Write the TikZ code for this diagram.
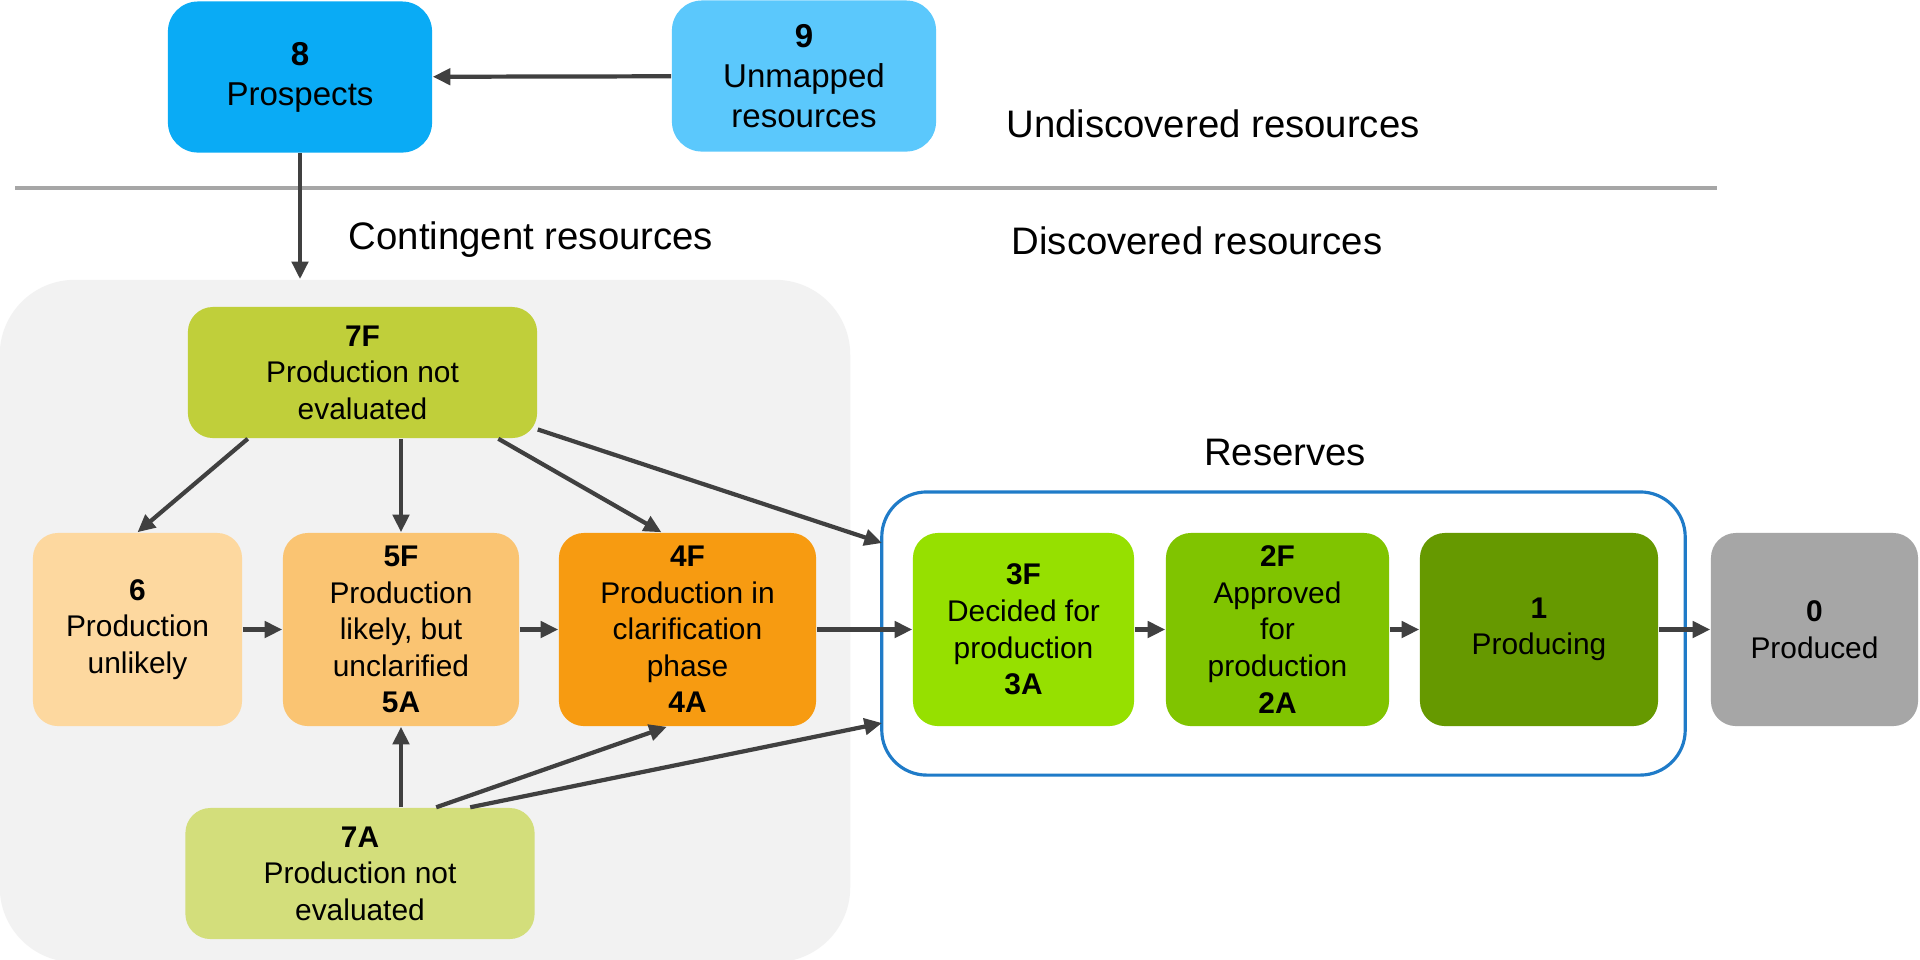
\documentclass[tikz,border=0pt]{standalone}
\usepackage{fontspec}
\setmainfont{Liberation Sans}
\usetikzlibrary{arrows.meta}

\definecolor{prospblue}{HTML}{0AABF5}
\definecolor{unmapblue}{HTML}{5BC8FC}
\definecolor{notevalF}{HTML}{C0CF3A}
\definecolor{notevalA}{HTML}{D3DE7B}
\definecolor{unlikely}{HTML}{FDD89F}
\definecolor{likely}{HTML}{FAC472}
\definecolor{clarif}{HTML}{F79B11}
\definecolor{decided}{HTML}{96E000}
\definecolor{approved}{HTML}{80C400}
\definecolor{producing}{HTML}{669900}
\definecolor{produced}{HTML}{A6A6A6}
\definecolor{panelgray}{HTML}{F2F2F2}
\definecolor{arrowgray}{HTML}{404040}
\definecolor{resblue}{HTML}{1F7BC8}

\begin{document}
\begin{tikzpicture}[x=0.01cm,y=-0.01cm,
    box/.style={rectangle,rounded corners=0.25cm,align=center,inner sep=0pt,
                minimum height=1.93cm,font=\fontsize{8.5}{10.4}\selectfont},
    topbox/.style={box,rounded corners=0.3cm,minimum width=2.64cm,minimum height=1.51cm,
                   font=\fontsize{9.4}{11.4}\selectfont},
    flow/.style={-{Triangle[length=5pt,width=4.6pt]},draw=arrowgray,line width=1.2pt},
    headline/.style={font=\fontsize{10.9}{13}\selectfont}]

  \useasboundingbox[fill=white] (0,0) rectangle (1920,959);

  % background areas
  \node[fill=panelgray,rounded corners=0.75cm,minimum width=8.5cm,minimum height=6.82cm] (cont) at (425,621) {};
  \draw[produced,line width=1.1pt] (15,188) -- (1717,188);
  \node[draw=resblue,line width=0.9pt,rounded corners=0.45cm,minimum width=8.03cm,minimum height=2.83cm] (res) at (1283.5,633.5) {};
  \coordinate (r1) at (882,543);
  \coordinate (r2) at (882,723);

  % headlines
  \node[headline] (undisc) at (1213,124) {Undiscovered resources};
  \node[headline] (disc) at (1197,241) {Discovered resources};
  \node[headline] (conting) at (531,240) {Contingent resources};
  \node[headline] (reserv) at (1285,452) {Reserves};

  % classes
  \node[topbox,fill=prospblue] (n8) at (300,77) {\textbf{8}\\Prospects};
  \node[topbox,fill=unmapblue] (n9) at (804,76) {\textbf{9}\\Unmapped\\resources};
  \node[box,fill=notevalF,minimum width=3.49cm,minimum height=1.31cm] (n7F) at (362.5,372.5) {\textbf{7F}\\Production not\\evaluated};
  \node[box,fill=unlikely,minimum width=2.09cm] (n6) at (137.5,629.5) {\textbf{6}\\Production\\unlikely};
  \node[box,fill=likely,minimum width=2.36cm] (n5) at (401,629.5) {\textbf{5F}\\Production\\likely, but\\unclarified\\\textbf{5A}};
  \node[box,fill=clarif,minimum width=2.57cm] (n4) at (687.5,629.5) {\textbf{4F}\\Production in\\clarification\\phase\\\textbf{4A}};
  \node[box,fill=notevalA,minimum width=3.49cm,minimum height=1.31cm] (n7A) at (360,873.5) {\textbf{7A}\\Production not\\evaluated};
  \node[box,fill=decided,minimum width=2.21cm] (n3) at (1023.5,629.5) {\textbf{3F}\\Decided for\\production\\\textbf{3A}};
  \node[box,fill=approved,minimum width=2.23cm] (n2) at (1277.5,629.5) {\textbf{2F}\\Approved\\for\\production\\\textbf{2A}};
  \node[box,fill=producing,minimum width=2.38cm] (n1) at (1539,629.5) {\textbf{1}\\Producing};
  \node[box,fill=produced,minimum width=2.07cm] (n0) at (1814.5,629.5) {\textbf{0}\\Produced};

  % arrows
  \draw[flow] (n9) -- (n8);
  \draw[flow] (n8.south) -- (n8.south |- cont.north);
  \draw[flow] (n7F.210) -- (n6.north);
  \draw[flow] (n7F.south -| n5.north) -- (n5.north);
  \draw[flow] (n7F.334) -- (n4.105);
  \draw[flow] (n7F.342) -- (r1);
  \draw[flow] (n6) -- (n5);
  \draw[flow] (n5) -- (n4);
  \draw[flow] (n4) -- (n3);
  \draw[flow] (n3) -- (n2);
  \draw[flow] (n2) -- (n1);
  \draw[flow] (n1) -- (n0);
  \draw[flow] (n7A.north -| n5.south) -- (n5.south);
  \draw[flow] (n7A.41.9) -- (n4.258);
  \draw[flow] (n7A.31.2) -- (r2);
\end{tikzpicture}
\end{document}
